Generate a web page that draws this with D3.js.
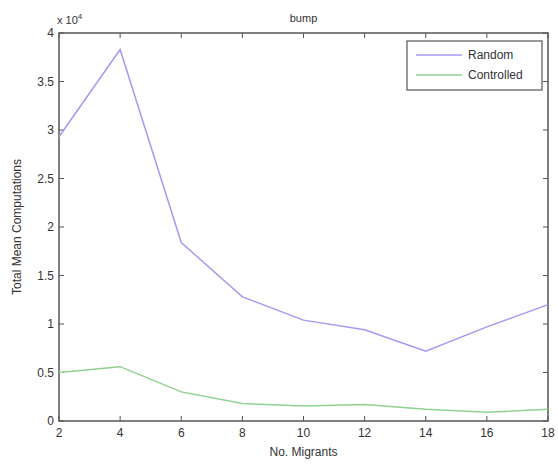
<!DOCTYPE html>
<html><head><meta charset="utf-8">
<script src="https://cdn.jsdelivr.net/npm/d3@7"></script>
<style>body{margin:0;background:#fff}svg{display:block;font-family:"Liberation Sans",Arial,sans-serif}</style>
</head><body><svg id="c" width="558" height="464"></svg>
<script>
const migrants = [2,4,6,8,10,12,14,16,18];
const randomVals = [2.93,3.83,1.84,1.28,1.04,0.94,0.72,0.97,1.2];
const controlledVals = [0.5,0.56,0.3,0.18,0.155,0.17,0.12,0.09,0.12];
const xTicks = [2,4,6,8,10,12,14,16,18];
const yTicks = [0,0.5,1,1.5,2,2.5,3,3.5,4];
const seriesNames = ["Random","Controlled"];
const seriesColors = ["#a39af0","#8fd18f"];

const svg = d3.select("#c");
const L=59,R=548,T=33,B=421;
const x = d3.scaleLinear().domain([2,18]).range([L,R]);
const y = d3.scaleLinear().domain([0,4]).range([B,T]);
const axisColor="#555";
const tickLen=5;

// frame
svg.append("rect").attr("x",L).attr("y",T).attr("width",R-L).attr("height",B-T)
  .attr("fill","none").attr("stroke",axisColor).attr("stroke-width",1.5);

// ticks
const g=svg.append("g");
xTicks.forEach(t=>{
  g.append("line").attr("x1",x(t)).attr("x2",x(t)).attr("y1",B).attr("y2",B-tickLen).attr("stroke",axisColor);
  g.append("line").attr("x1",x(t)).attr("x2",x(t)).attr("y1",T).attr("y2",T+tickLen).attr("stroke",axisColor);
  g.append("text").attr("x",x(t)).attr("y",B+16).attr("text-anchor","middle").attr("font-size",12).attr("fill","#333").text(t);
});
yTicks.forEach(t=>{
  g.append("line").attr("x1",L).attr("x2",L+tickLen).attr("y1",y(t)).attr("y2",y(t)).attr("stroke",axisColor);
  g.append("line").attr("x1",R).attr("x2",R-tickLen).attr("y1",y(t)).attr("y2",y(t)).attr("stroke",axisColor);
  g.append("text").attr("x",L-5).attr("y",y(t)+4).attr("text-anchor","end").attr("font-size",12).attr("fill","#333").text(t);
});

// exponent
const ex=svg.append("text").attr("x",L-2).attr("y",T-9).attr("font-size",11).attr("fill","#333");
ex.append("tspan").text("x 10");
ex.append("tspan").attr("dy",-5).attr("font-size",8).text("4");

// title and labels
svg.append("text").attr("x",(L+R)/2).attr("y",T-11).attr("text-anchor","middle").attr("font-size",11).attr("fill","#333").text("bump");
svg.append("text").attr("x",(L+R)/2).attr("y",B+35).attr("text-anchor","middle").attr("font-size",12).attr("fill","#333").text("No. Migrants");
svg.append("text").attr("transform",`translate(21,${(T+B)/2}) rotate(-90)`).attr("text-anchor","middle").attr("font-size",12).attr("fill","#333").text("Total Mean Computations");

// lines
const line=d3.line().x((d,i)=>x(migrants[i])).y(d=>y(d));
[randomVals,controlledVals].forEach((vals,k)=>{
  svg.append("path").datum(vals).attr("d",line).attr("fill","none")
    .attr("stroke",seriesColors[k]).attr("stroke-width",1.5);
});

// legend
const lg=svg.append("g");
lg.append("rect").attr("x",407).attr("y",41).attr("width",135).attr("height",49)
  .attr("fill","#fff").attr("stroke",axisColor).attr("stroke-width",1.2);
seriesNames.forEach((n,i)=>{
  const yy=55+i*20;
  lg.append("line").attr("x1",416).attr("x2",462).attr("y1",yy).attr("y2",yy).attr("stroke",seriesColors[i]).attr("stroke-width",1.5);
  lg.append("text").attr("x",468).attr("y",yy+4).attr("font-size",12).attr("fill","#333").text(n);
});
</script></body></html>
